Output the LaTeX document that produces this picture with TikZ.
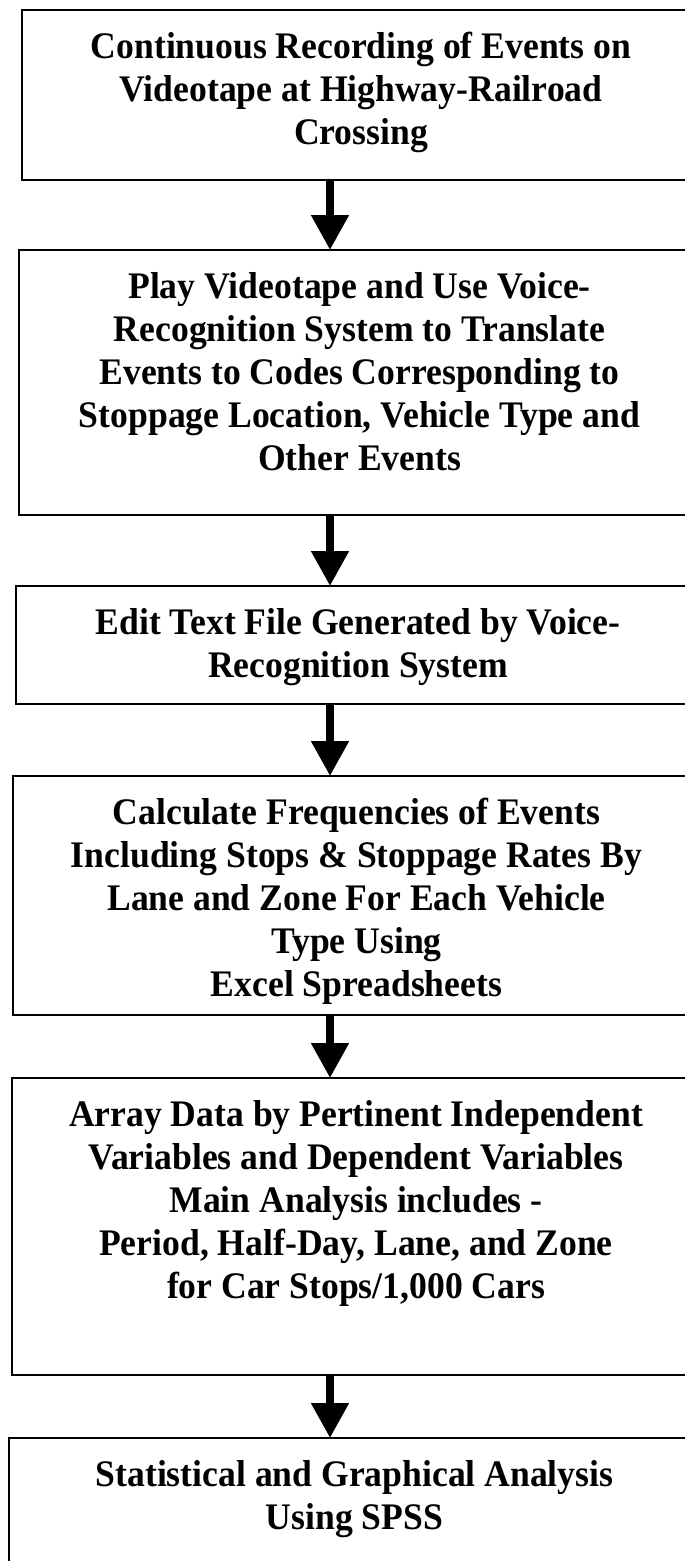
\documentclass[tikz,border=0pt]{standalone}
\usepackage{xcolor}
\usepackage{fontspec}
\setmainfont[FakeStretch=0.95]{Liberation Serif}
\usepackage{tikz}
\usetikzlibrary{arrows.meta, positioning, fit}

\begin{document}
\begin{tikzpicture}[x=1pt, y=1pt,
    stagebox/.style={draw, line width=2.5pt, inner sep=0pt, outer sep=0pt},
    stagetext/.style={align=center, inner sep=0pt, outer sep=0pt,
        font=\bfseries\fontsize{37.5}{43}\selectfont},
    flow/.style={line width=8pt, -{Triangle[width=36pt, length=35pt]}}]
    \useasboundingbox (0,0) rectangle (685,-1561);
    \coordinate (ax) at (330,0);

    % the boxes run past the right edge of the page
    \node[stagebox, fit={(22,-10) (700,-180)}] (rec) {};
    \node[stagebox, fit={(19,-250) (700,-515)}] (play) {};
    \node[stagebox, fit={(16,-586) (700,-704)}] (edit) {};
    \node[stagebox, fit={(13,-776) (700,-1015)}] (calc) {};
    \node[stagebox, fit={(12,-1078) (700,-1375)}] (array) {};
    \node[stagebox, fit={(9,-1438) (700,-1620)}] (stat) {};

    \node[stagetext, below=22pt of rec.north] (rectext)
        {Continuous Recording of Events on\\Videotape at Highway-Railroad\\Crossing};
    \node[stagetext, below=22pt of play.north] (playtext)
        {Play Videotape and Use Voice-\\Recognition System to Translate\\
         Events to Codes Corresponding to\\Stoppage Location, Vehicle Type and\\Other Events};
    \node[stagetext, below=22pt of edit.north] (edittext)
        {Edit Text File Generated by Voice-\\Recognition System};
    \node[stagetext, below=22pt of calc.north] (calctext)
        {Calculate Frequencies of Events\\Including Stops \& Stoppage Rates By\\
         Lane and Zone For Each Vehicle\\Type Using\\Excel Spreadsheets};
    \node[stagetext, below=22pt of array.north] (arraytext)
        {Array Data by Pertinent Independent\\Variables and Dependent Variables\\
         Main Analysis includes -\\Period, Half-Day, Lane, and Zone\\for Car Stops/1,000 Cars};
    \node[stagetext, below=22pt of stat.north] (stattext)
        {Statistical and Graphical Analysis\\Using SPSS};

    \draw[flow] (rec.south -| ax) -- (play.north -| ax);
    \draw[flow] (play.south -| ax) -- (edit.north -| ax);
    \draw[flow] (edit.south -| ax) -- (calc.north -| ax);
    \draw[flow] (calc.south -| ax) -- (array.north -| ax);
    \draw[flow] (array.south -| ax) -- (stat.north -| ax);
\end{tikzpicture}
\end{document}
